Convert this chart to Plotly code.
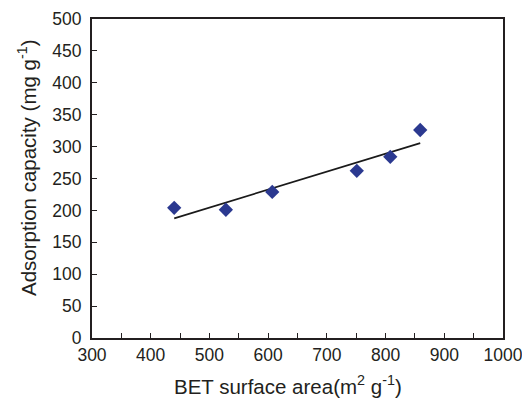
import numpy as np
import plotly.graph_objects as go

bet_area = [440, 528, 607, 751, 808, 859]
adsorption = [204, 201, 229, 262, 284, 326]

x_tick_vals = [300, 400, 500, 600, 700, 800, 900, 1000]
y_tick_vals = [0, 50, 100, 150, 200, 250, 300, 350, 400, 450, 500]

x_title = "BET surface area(m<sup>2</sup> g<sup>-1</sup>)"
y_title = "Adsorption capacity (mg g<sup>-1</sup>)"

slope, intercept = np.polyfit(bet_area, adsorption, 1)
fit_x = [min(bet_area), max(bet_area)]
fit_y = [slope * v + intercept for v in fit_x]

fig = go.Figure()
fig.add_trace(go.Scatter(x=fit_x, y=fit_y, mode="lines",
                         line=dict(color="#1a1a1a", width=1.6), showlegend=False))
fig.add_trace(go.Scatter(x=bet_area, y=adsorption, mode="markers",
                         marker=dict(symbol="diamond", size=11, color="#2B3990"),
                         showlegend=False))

font = "Liberation Sans, Arial, sans-serif"
fig.update_layout(
    width=522, height=399,
    margin=dict(l=92, r=19, t=19, b=61),
    paper_bgcolor="white", plot_bgcolor="white",
    font=dict(family=font, color="#231f20", size=17.5),
)
fig.update_xaxes(
    range=[300, 1000], tickvals=x_tick_vals, ticks="inside", ticklen=5,
    tickwidth=1.2, tickcolor="#231f20",
    minor=dict(dtick=50, ticks="inside", ticklen=5, tickwidth=1.2, tickcolor="#231f20"),
    showline=True, linecolor="#231f20", linewidth=2, mirror=True,
    showgrid=False, zeroline=False, automargin=False,
    ticklabeloverflow="allow",
    tickfont=dict(size=17.5),
)
fig.update_yaxes(
    range=[0, 500], tickvals=y_tick_vals, ticks="inside", ticklen=5,
    tickwidth=1.2, tickcolor="#231f20",
    showline=True, linecolor="#231f20", linewidth=2, mirror=True,
    showgrid=False, zeroline=False, automargin=False,
    ticklabeloverflow="allow", ticklabelstandoff=5,
    tickfont=dict(size=17.5),
)
fig.add_annotation(text=x_title, xref="paper", yref="paper", x=0.477, y=-0.146,
                   xanchor="center", yanchor="middle", showarrow=False,
                   font=dict(size=20.5))
fig.add_annotation(text=y_title, xref="paper", yref="paper", x=-0.158, y=0.533,
                   xanchor="center", yanchor="middle", textangle=-90, showarrow=False,
                   font=dict(size=20.5))

fig.write_html(
    "out.html",
    config={"displayModeBar": False},
    post_script="document.body.style.margin='0';document.body.style.overflow='hidden';",
)
